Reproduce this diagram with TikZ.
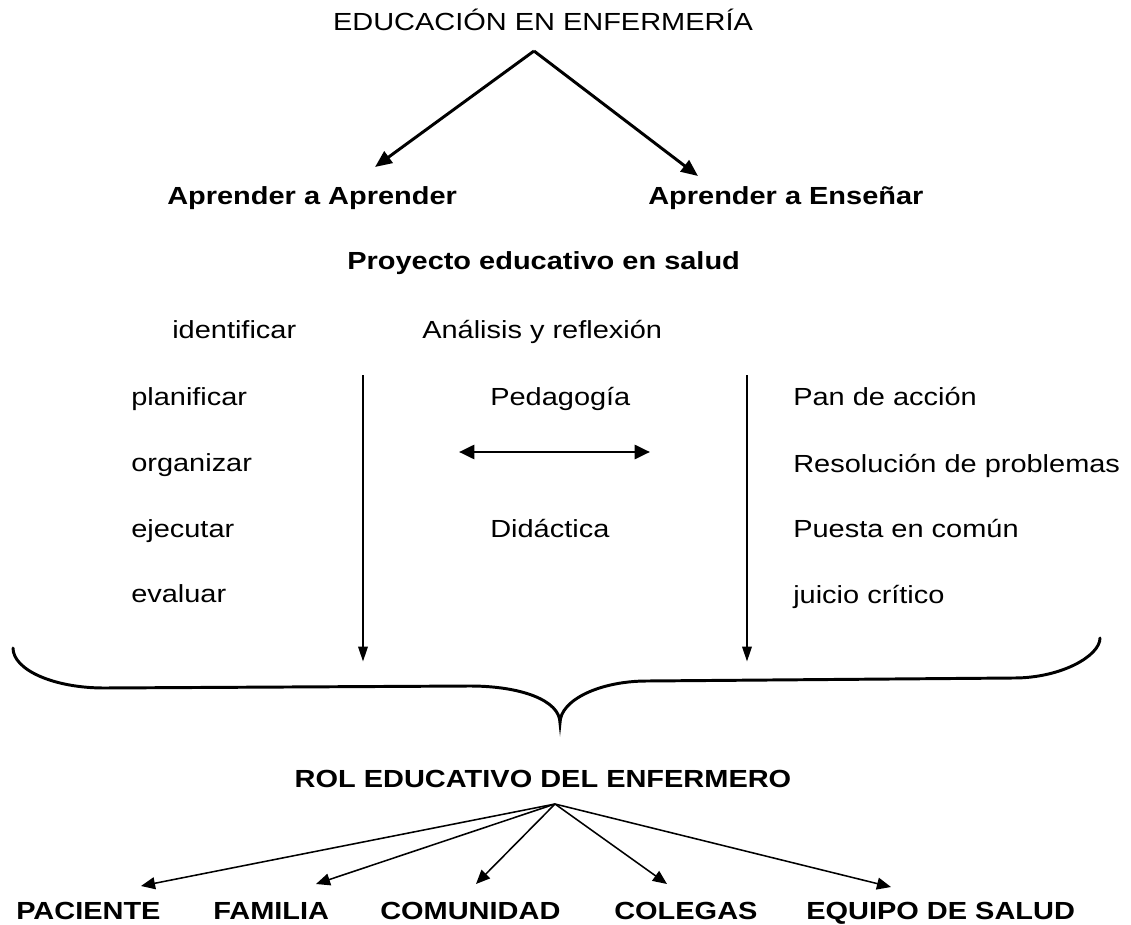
\documentclass[tikz,border=0pt]{standalone}
\usepackage{fontspec}
\setmainfont{Liberation Sans}[FakeStretch=1.17]
\usepackage{tikz}
\usetikzlibrary{
  arrows.meta,
  calc
}
\tikzset{
  txt/.style={
    inner sep=0pt,
    anchor=base west,
    font=\fontsize{17.6}{20}\selectfont},
  tit/.style={
    txt,
    font=\fontsize{17.6}{20}\selectfont\bfseries},
  fgrue/.style={
    -{Triangle[length=12pt,width=10pt]},
    line width=2.1pt},
  fvert/.style={
    -{Triangle[length=11pt,width=6.5pt]},
    line width=2.1pt},
  fdoble/.style={
    {Triangle[length=11pt,width=10pt]}-{Triangle[length=11pt,width=10pt]},
    line width=2.1pt},
  ffino/.style={
    -{Triangle[length=10pt,width=8.5pt]},
    line width=1.1pt},
  llave/.style={
    line width=2.1pt,
    line cap=round}
  }

\begin{document}
\begin{tikzpicture}[x=0.025cm,y=-0.025cm]
      \useasboundingbox (0,0) rectangle (1131,925);
      % cabecera
      \node[txt,anchor=base] (edu) at (543,31) {EDUCACIÓN EN ENFERMERÍA};
      \node[tit] (apap) at (167,205) {Aprender a Aprender};
      \node[tit] (apen) at (648,205) {Aprender a Enseñar};
      \node[tit] (proy) at (347,270) {Proyecto educativo en salud};
      % columnas
      \node[txt] (iden) at (172,338) {identificar};
      \node[txt] (anal) at (422,338) {Análisis y reflexión};
      \node[txt] (plan) at (131,405) {planificar};
      \node[txt] (peda) at (490,405) {Pedagogía};
      \node[txt] (pan) at (793,405) {Pan de acción};
      \node[txt] (orga) at (131,471) {organizar};
      \node[txt] (reso) at (793,472) {Resolución de problemas};
      \node[txt] (ejec) at (131,537) {ejecutar};
      \node[txt] (dida) at (490,537) {Didáctica};
      \node[txt] (pues) at (793,537) {Puesta en común};
      \node[txt] (eval) at (131,602) {evaluar};
      \node[txt] (juic) at (793,603) {juicio crítico};
      % rol y destinatarios
      \node[tit,anchor=base] (rol) at (543,787) {ROL EDUCATIVO DEL ENFERMERO};
      \node[tit] (paci) at (16,919) {PACIENTE};
      \node[tit] (fami) at (213,919) {FAMILIA};
      \node[tit] (comu) at (380,919) {COMUNIDAD};
      \node[tit] (cole) at (614,919) {COLEGAS};
      \node[tit] (equi) at (806,919) {EQUIPO DE SALUD};
      % puntos de las flechas
      \coordinate (o1) at (534,51);
      \coordinate (t1) at (375,167);
      \coordinate (t2) at (698,176);
      \coordinate (v1a) at (363,375);
      \coordinate (v1b) at (363,662);
      \coordinate (v2a) at (747,375);
      \coordinate (v2b) at (747,662);
      \coordinate (d1) at (459,452);
      \coordinate (d2) at (650,452);
      \coordinate (o2) at (555,804);
      \coordinate (p1) at (141,886);
      \coordinate (p2) at (316,884);
      \coordinate (p3) at (476,884);
      \coordinate (p4) at (667,884);
      \coordinate (p5) at (891,887);
      \path [fgrue]
      (o1) edge[] (t1)
      (o1) edge[] (t2);
      \path [fvert]
      (v1a) edge[] (v1b)
      (v2a) edge[] (v2b);
      \draw [fdoble] (d1) -- (d2);
      \path [ffino]
      (o2) edge[] (p1)
      (o2) edge[] (p2)
      (o2) edge[] (p3)
      (o2) edge[] (p4)
      (o2) edge[] (p5);
      % llave
      \draw [llave] (13,648) .. controls (13,670) and (54,688) .. (104,688)
        -- (470,686) .. controls (520,686) and (560,700) .. (560,723)
        .. controls (560,700) and (600,681) .. (647,681)
        -- (1014,678) .. controls (1061,678) and (1100,656) .. (1100,638);
    \end{tikzpicture}
\end{document}
